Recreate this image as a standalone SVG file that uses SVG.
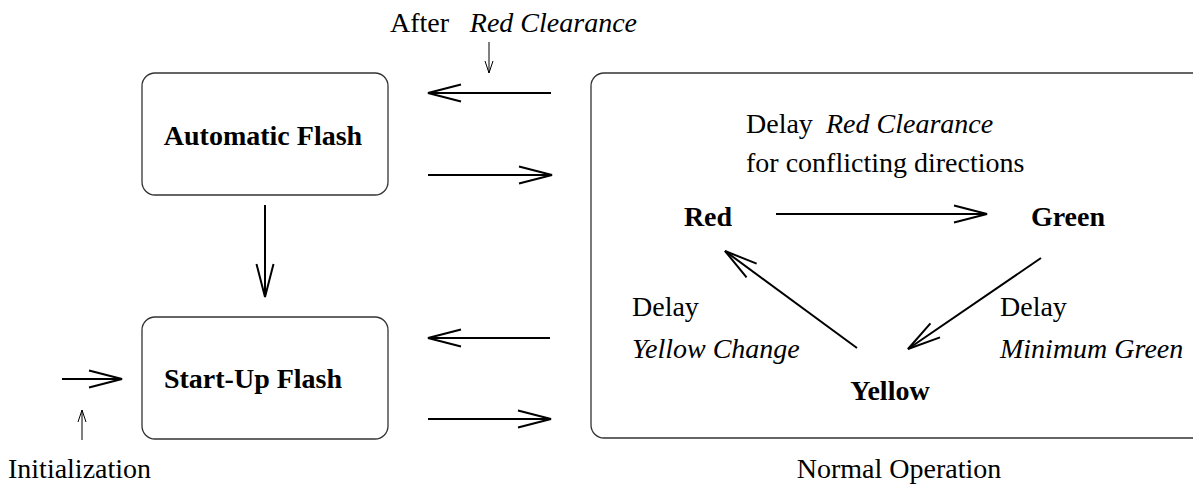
<svg xmlns="http://www.w3.org/2000/svg" width="1193" height="485" viewBox="0 0 1193 485">
<style>
.box{fill:#fff;stroke:#333;stroke-width:1.3}
.t{font-family:"Liberation Serif","Times New Roman",serif;font-size:28px;fill:#000}
.b{font-weight:bold}
.i{font-style:italic}
.c{stroke:#000;stroke-width:2;fill:none;marker-end:url(#ah)}
.s{stroke:#000;stroke-width:1;fill:none;marker-end:url(#sah)}
</style>
<defs>
<marker id="ah" markerUnits="userSpaceOnUse" markerWidth="40" markerHeight="24" refX="0" refY="0" viewBox="-36 -12 40 24" orient="auto" overflow="visible">
<path d="M-33,-8.5 L0,0 L-33,8.5" fill="none" stroke="#000" stroke-width="2"/>
</marker>
<marker id="sah" markerUnits="userSpaceOnUse" markerWidth="16" markerHeight="12" refX="0" refY="0" viewBox="-14 -6 16 12" orient="auto" overflow="visible">
<path d="M-12,-4 L0,0 L-12,4" fill="none" stroke="#000" stroke-width="1"/>
</marker>
</defs>
<g id="automatic-flash">
<rect class="box" x="142" y="73" width="246" height="122" rx="13"/>
<text class="t b" x="263" y="145" text-anchor="middle">Automatic Flash</text>
</g>
<g id="startup-flash">
<rect class="box" x="142" y="317" width="246" height="122" rx="13"/>
<text class="t b" x="253" y="388" text-anchor="middle">Start-Up Flash</text>
</g>
<g id="normal-operation">
<rect class="box" x="591" y="73" width="640" height="365" rx="13"/>
<text class="t" x="746" y="133">Delay</text>
<text class="t i" x="826" y="133">Red Clearance</text>
<text class="t" x="746" y="172">for conflicting directions</text>
<text class="t" x="899" y="478" text-anchor="middle">Normal Operation</text>
</g>
<g id="red"><text class="t b" x="708" y="226" text-anchor="middle">Red</text></g>
<g id="green"><text class="t b" x="1068" y="226" text-anchor="middle">Green</text></g>
<g id="yellow"><text class="t b" x="890" y="400" text-anchor="middle">Yellow</text></g>
<g id="labels">
<text class="t" x="390" y="32">After</text>
<text class="t i" x="637" y="32" text-anchor="end">Red Clearance</text>
<text class="t" x="8" y="478">Initialization</text>
<text class="t" x="632" y="316">Delay</text>
<text class="t i" x="632" y="358">Yellow Change</text>
<text class="t" x="1000" y="316">Delay</text>
<text class="t i" x="1000" y="358">Minimum Green</text>
</g>
<g id="connectors">
<line class="c" x1="551" y1="93" x2="428" y2="93"/>
<line class="c" x1="428" y1="175" x2="552" y2="175"/>
<line class="c" x1="265" y1="205" x2="265" y2="297"/>
<line class="c" x1="550" y1="338" x2="428" y2="338"/>
<line class="c" x1="428" y1="419" x2="551" y2="419"/>
<line class="c" x1="62" y1="379" x2="122" y2="379"/>
<line class="c" x1="776" y1="214" x2="987" y2="214"/>
<line class="c" x1="1041" y1="258" x2="908" y2="349"/>
<line class="c" x1="857" y1="348" x2="725" y2="251"/>
<line class="s" x1="489" y1="42" x2="489" y2="73"/>
<line class="s" x1="82" y1="440" x2="82" y2="410"/>
</g>
</svg>
